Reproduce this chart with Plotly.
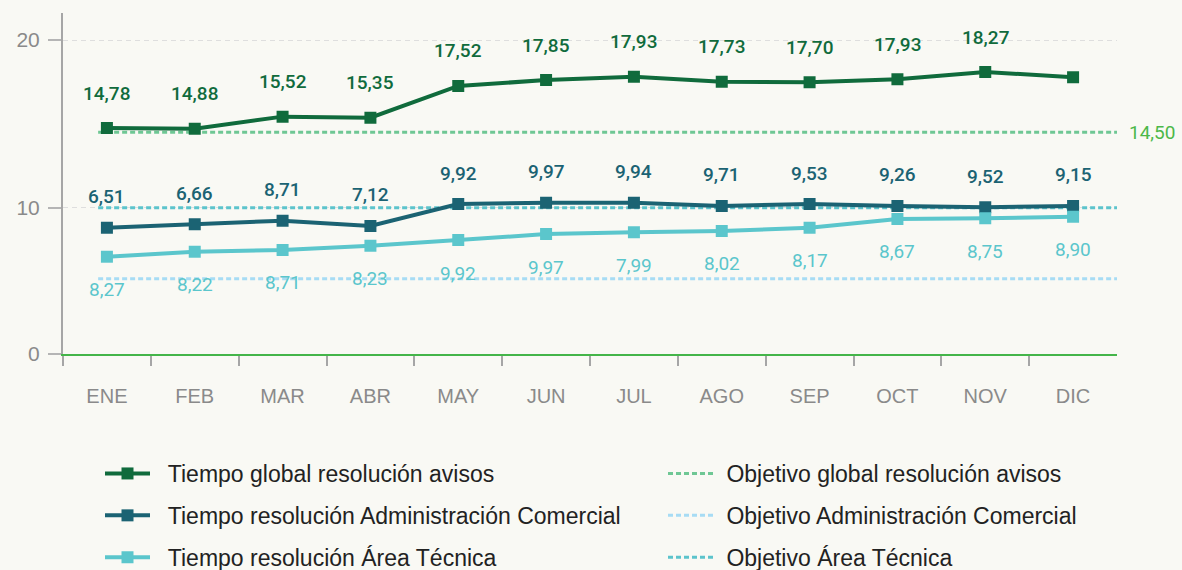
import plotly.graph_objects as go

# ---------------- data ----------------
months = ["ENE", "FEB", "MAR", "ABR", "MAY", "JUN", "JUL", "AGO", "SEP", "OCT", "NOV", "DIC"]

global_vals = [14.75, 14.71, 15.43, 15.37, 17.26, 17.61, 17.81, 17.51, 17.48, 17.66, 18.09, 17.78]
admin_vals = [8.63, 8.87, 9.11, 8.75, 10.25, 10.34, 10.34, 10.12, 10.25, 10.12, 10.03, 10.12]
tech_vals = [6.65, 6.99, 7.11, 7.40, 7.79, 8.20, 8.32, 8.41, 8.63, 9.23, 9.28, 9.38]

global_labels = ["14,78", "14,88", "15,52", "15,35", "17,52", "17,85", "17,93", "17,73", "17,70", "17,93", "18,27", None]
admin_labels = ["6,51", "6,66", "8,71", "7,12", "9,92", "9,97", "9,94", "9,71", "9,53", "9,26", "9,52", "9,15"]
tech_labels = ["8,27", "8,22", "8,71", "8,23", "9,92", "9,97", "7,99", "8,02", "8,17", "8,67", "8,75", "8,90"]

obj_global = 14.5
obj_admin = 5.15
obj_tech = 10.0
obj_global_label = "14,50"

lower_ticks = [0, 10]
upper_ticks = [20]

series_names = [
    "Tiempo global resolución avisos",
    "Tiempo resolución Administración Comercial",
    "Tiempo resolución Área Técnica",
]
objective_names = [
    "Objetivo global resolución avisos",
    "Objetivo Administración Comercial",
    "Objetivo Área Técnica",
]

# ---------------- styles ----------------
BG = "#f9f9f4"
C_GLOBAL = "#106b3c"
C_ADMIN = "#1b6373"
C_TECH = "#5bc6cc"
C_OBJ_GLOBAL = "#6fc794"
C_OBJ_ADMIN = "#a7dcf4"
C_OBJ_TECH = "#5cc4cc"
C_LABEL_OBJ = "#4cb848"
GREY = "#8a8a8a"
FONT = "Liberation Sans, Arial, sans-serif"
LABEL_FONT = "Roboto, Liberation Sans, Arial, sans-serif"
NB = "\u00a0"

x = list(range(len(months)))
x_obj = [-0.1, len(months) - 0.5]

fig = go.Figure()

# objective lines (drawn underneath)
for name, val, col, ax in [
    (objective_names[0], obj_global, C_OBJ_GLOBAL, "y2"),
    (objective_names[1], obj_admin, C_OBJ_ADMIN, "y"),
    (objective_names[2], obj_tech, C_OBJ_TECH, "y"),
]:
    fig.add_trace(go.Scatter(
        x=x_obj, y=[val, val], mode="lines", name=NB + name, yaxis=ax,
        line=dict(color=col, width=3, dash="5px,3px"),
        legend="legend2", legendgroup=name, hoverinfo="skip",
    ))

# series
for name, vals, col, ax in [
    (series_names[0], global_vals, C_GLOBAL, "y2"),
    (series_names[1], admin_vals, C_ADMIN, "y"),
    (series_names[2], tech_vals, C_TECH, "y"),
]:
    fig.add_trace(go.Scatter(
        x=x, y=vals, mode="lines+markers", name=NB * 2 + name, yaxis=ax,
        line=dict(color=col, width=4),
        marker=dict(symbol="square", size=12, color=col),
        legend="legend", legendgroup=name,
    ))

# value labels
annotations = []
for vals, labels, col, ax, shift, wt in [
    (global_vals, global_labels, C_GLOBAL, "y2", 35, 500),
    (admin_vals, admin_labels, C_ADMIN, "y", 31, 500),
    (tech_vals, tech_labels, C_TECH, "y", -33, 400),
]:
    for xi, v, lab in zip(x, vals, labels):
        if lab is None:
            continue
        annotations.append(dict(
            x=xi, y=v, xref="x", yref=ax, text=lab, showarrow=False,
            yshift=shift, font=dict(family=LABEL_FONT, size=19, color=col, weight=wt),
        ))

annotations.append(dict(
    x=1, y=obj_global, xref="paper", yref="y2", text=obj_global_label,
    showarrow=False, xanchor="left", xshift=10,
    font=dict(family=LABEL_FONT, size=19, color=C_LABEL_OBJ, weight=400),
))

axis_common = dict(
    showline=True, linecolor="#a6a6a6", linewidth=2,
    ticks="outside", ticklen=13, tickwidth=2, tickcolor="#b5b5b5",
    tickfont=dict(family=FONT, size=21, color=GREY),
    showgrid=True, gridcolor="#dedede", gridwidth=1, griddash="5px,4px",
    zeroline=False, ticklabelstandoff=4, fixedrange=True,
)

fig.update_layout(
    width=1182, height=570,
    margin=dict(l=63, r=65, t=13, b=216, autoexpand=False),
    paper_bgcolor=BG, plot_bgcolor=BG,
    font=dict(family=FONT),
    showlegend=True,
    xaxis=dict(
        range=[-0.5, len(months) - 0.5],
        tickmode="array", tickvals=x, ticktext=months, ticks="",
        showgrid=False, zeroline=False,
        showline=True, linecolor="#44b549", linewidth=2,
        tickfont=dict(family=FONT, size=20, color=GREY),
        ticklabelstandoff=23,
        minor=dict(tickmode="array", tickvals=[i - 0.5 for i in x],
                   ticks="outside", ticklen=10, tickwidth=2, tickcolor="#a6a6a6",
                   showgrid=False),
        anchor="y", fixedrange=True,
    ),
    yaxis=dict(domain=[0, 0.6], range=[0, 13.985], tickmode="array",
               tickvals=lower_ticks, anchor="x", **axis_common),
    yaxis2=dict(domain=[0.5, 1], range=[11.443, 21.61], tickmode="array",
                tickvals=upper_ticks, anchor="x", **axis_common),
    legend=dict(
        xref="container", yref="container", x=100 / 1182, y=1 - 452 / 570,
        xanchor="left", yanchor="top", orientation="v",
        font=dict(family=FONT, size=23, color="#222222"),
        itemwidth=45, tracegroupgap=9, bgcolor="rgba(0,0,0,0)",
    ),
    legend2=dict(
        xref="container", yref="container", x=663 / 1182, y=1 - 452 / 570,
        xanchor="left", yanchor="top", orientation="v",
        font=dict(family=FONT, size=23, color="#222222"),
        itemwidth=47, tracegroupgap=9, bgcolor="rgba(0,0,0,0)",
    ),
    annotations=annotations,
)

fig.write_html("out.html", config={"displayModeBar": False},
               post_script="document.body.style.margin='0';")
